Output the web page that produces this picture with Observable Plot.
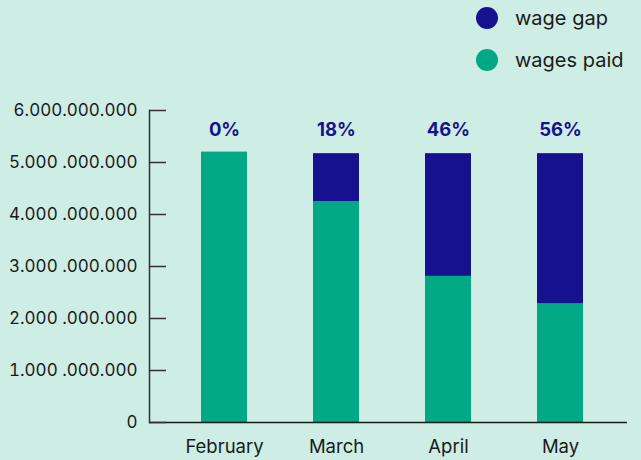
<!DOCTYPE html>
<html>
<head>
<meta charset="utf-8">
<script src="https://cdn.jsdelivr.net/npm/d3@7"></script>
<script src="https://cdn.jsdelivr.net/npm/@observablehq/plot@0.6"></script>
<style>
  html, body { margin: 0; padding: 0; background: #cdede5; }
  body { width: 641px; height: 460px; position: relative; overflow: hidden; font-family: Inter, "Noto Sans", sans-serif; }
  #legend { position: absolute; left: 476px; top: 0; width: 165px; height: 80px; }
  .item { position: absolute; left: 0; display: flex; align-items: center; font-size: 20px; line-height: 22px; color: #1a1a1a; }
  .sw { width: 22px; height: 22px; border-radius: 50%; margin-right: 17px; }
  #chart { position: absolute; left: 0; top: 80px; }
</style>
</head>
<body>
<div id="legend"></div>
<div id="chart"></div>
<script>
const months = ["February", "March", "April", "May"];
const wagesPaid = [5.2e9, 4.25e9, 2.81e9, 2.28e9];
const wageGap = [0, 0.92e9, 2.36e9, 2.89e9];
const gapPct = ["0%", "18%", "46%", "56%"];
const seriesNames = ["wage gap", "wages paid"];
const seriesColors = ["#16128f", "#00a884"];
const yTicks = [0, 1e9, 2e9, 3e9, 4e9, 5e9, 6e9];
const yTickLabels = ["0", "1.000 .000.000", "2.000 .000.000", "3.000 .000.000", "4.000 .000.000", "5.000 .000.000", "6.000.000.000"];

const rows = [];
months.forEach((m, i) => rows.push({month: m, series: "wages paid", value: wagesPaid[i]}));
months.forEach((m, i) => rows.push({month: m, series: "wage gap", value: wageGap[i]}));

// legend
const legend = document.getElementById("legend");
seriesNames.forEach((s, i) => {
  const it = document.createElement("div");
  it.className = "item";
  it.style.top = (i === 0 ? 7 : 49) + "px";
  it.innerHTML = `<span class="sw" style="background:${seriesColors[i]}"></span><span>${s}</span>`;
  legend.appendChild(it);
});

const chart = Plot.plot({
  width: 641,
  height: 380,
  marginTop: 30,
  marginBottom: 38,
  marginLeft: 149,
  marginRight: 14,
  style: {background: "transparent", fontFamily: "Inter, 'Noto Sans', sans-serif", fontSize: "17px", color: "#1a1a1a"},
  x: {domain: months, paddingInner: 0.59, paddingOuter: 0.423, align: 0.54, label: null},
  y: {domain: [0, 6e9], label: null},
  color: {domain: seriesNames, range: seriesColors},
  marks: [
    Plot.barY(rows, {x: "month", y: "value", fill: "series"}),
    Plot.ruleY([0], {stroke: "#1a1a1a", strokeWidth: 1.5}),
    Plot.frame({anchor: "left", stroke: "#333", strokeWidth: 1.5}),
    Plot.axisY({ticks: yTicks, tickSize: -17, text: null, stroke: "#333", strokeWidth: 1.5}),
    Plot.axisY({ticks: yTicks, tickSize: 0, tickPadding: 12, tickFormat: (d) => yTickLabels[yTicks.indexOf(d)], fontSize: 17, fill: "#1a1a1a"}),
    Plot.axisX({tickSize: 0, tickPadding: 17, fontSize: 18.5, fill: "#1a1a1a"}),
    Plot.text(months, {x: (d) => d, text: (d, i) => gapPct[i], frameAnchor: "top", dy: 12, fill: "#16128f", fontWeight: "bold", fontSize: 18.5})
  ]
});
document.getElementById("chart").appendChild(chart);
</script>
</body>
</html>
